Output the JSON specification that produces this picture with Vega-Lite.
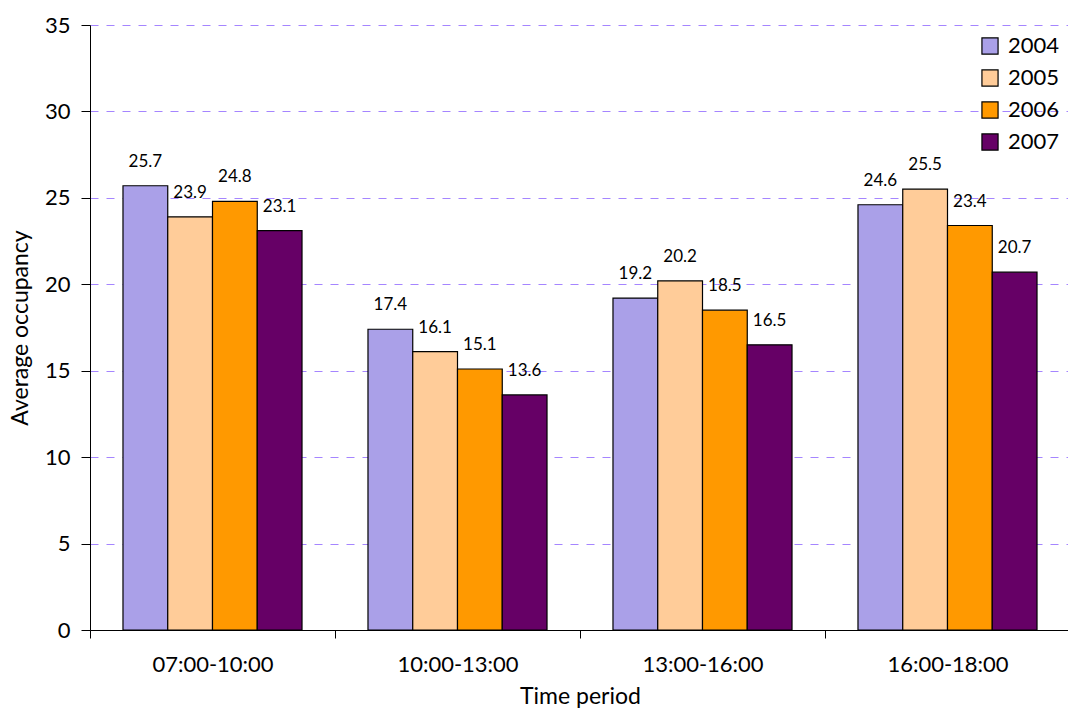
{
  "$schema": "https://vega.github.io/schema/vega-lite/v6.json",
  "width": 980,
  "height": 605,
  "autosize": {"type": "none"},
  "padding": {"left": 90, "top": 25, "right": 0, "bottom": 83},
  "background": "white",
  "config": {
    "font": "Lato",
    "view": {"stroke": null}
  },
  "data": {
    "values": [
      {"period": "07:00-10:00", "year": "2004", "value": 25.7},
      {"period": "07:00-10:00", "year": "2005", "value": 23.9},
      {"period": "07:00-10:00", "year": "2006", "value": 24.8},
      {"period": "07:00-10:00", "year": "2007", "value": 23.1},
      {"period": "10:00-13:00", "year": "2004", "value": 17.4},
      {"period": "10:00-13:00", "year": "2005", "value": 16.1},
      {"period": "10:00-13:00", "year": "2006", "value": 15.1},
      {"period": "10:00-13:00", "year": "2007", "value": 13.6},
      {"period": "13:00-16:00", "year": "2004", "value": 19.2},
      {"period": "13:00-16:00", "year": "2005", "value": 20.2},
      {"period": "13:00-16:00", "year": "2006", "value": 18.5},
      {"period": "13:00-16:00", "year": "2007", "value": 16.5},
      {"period": "16:00-18:00", "year": "2004", "value": 24.6},
      {"period": "16:00-18:00", "year": "2005", "value": 25.5},
      {"period": "16:00-18:00", "year": "2006", "value": 23.4},
      {"period": "16:00-18:00", "year": "2007", "value": 20.7}
    ]
  },
  "encoding": {
    "x": {
      "field": "period", "type": "nominal", "sort": null,
      "scale": {"padding": 0},
      "axis": {
        "title": "Time period", "titleFontSize": 23, "titleFontWeight": "normal", "titleColor": "#000",
        "labelFontSize": 22, "labelColor": "#000", "labelAngle": 0, "labelPadding": 16,
        "tickBand": "extent", "tickSize": 8, "tickColor": "#000", "domainColor": "#000",
        "titlePadding": 10, "grid": false
      }
    },
    "xOffset": {"field": "year", "type": "nominal", "scale": {"paddingOuter": 0.737, "paddingInner": 0}},
    "y": {
      "field": "value", "type": "quantitative",
      "scale": {"domain": [0, 35], "nice": false},
      "axis": {
        "title": "Average occupancy", "titleFontSize": 23, "titleFontWeight": "normal", "titleColor": "#000",
        "labelFontSize": 22, "labelColor": "#000", "values": [0, 5, 10, 15, 20, 25, 30, 35],
        "tickSize": 9, "tickColor": "#000", "domainColor": "#000", "labelPadding": 11, "titlePadding": 12,
        "grid": true, "gridColor": "#a585ff", "gridDash": [8, 8], "gridWidth": 1
      }
    }
  },
  "layer": [
    {
      "mark": {"type": "bar", "stroke": "#000", "strokeWidth": 1.2},
      "encoding": {
        "color": {
          "field": "year", "type": "nominal",
          "scale": {"domain": ["2004", "2005", "2006", "2007"], "range": ["#aaa0e8", "#ffcc99", "#ff9900", "#660066"]},
          "legend": {
            "title": null, "orient": "none", "legendX": 889, "legendY": 10,
            "labelFontSize": 22, "labelColor": "#000", "symbolType": "square", "symbolSize": 260,
            "symbolStrokeColor": "#000", "symbolStrokeWidth": 1.2, "rowPadding": 10, "labelOffset": 7
          }
        }
      }
    },
    {
      "mark": {"type": "text", "fontSize": 17, "baseline": "bottom", "dy": -15, "color": "#000"},
      "encoding": {"text": {"field": "value", "type": "quantitative", "format": ".1f"}}
    }
  ]
}
